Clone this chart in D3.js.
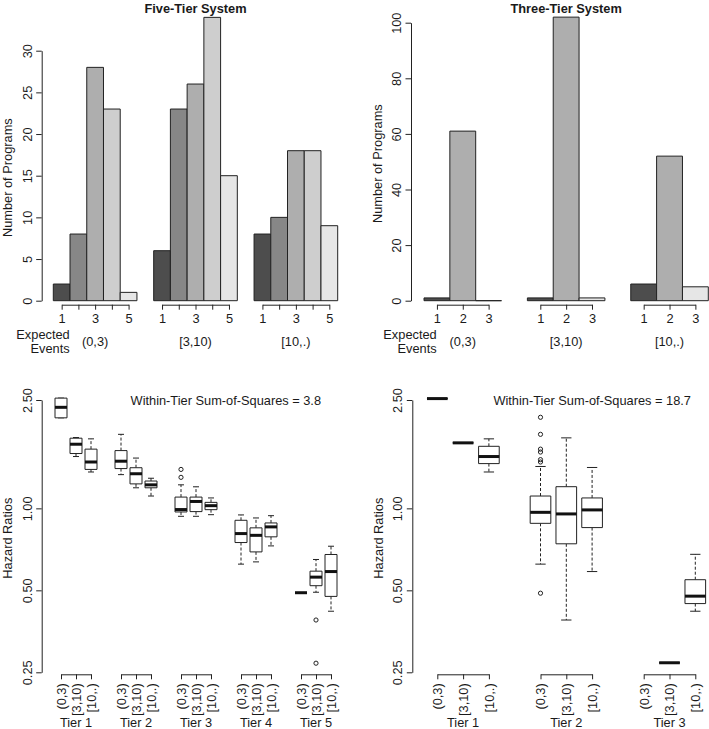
<!DOCTYPE html>
<html><head><meta charset="utf-8">
<script src="https://cdn.jsdelivr.net/npm/d3@7"></script>
<style>
body{margin:0;background:#fff}
svg{display:block;background:#fff}
text{font-family:"Liberation Sans",Arial,Helvetica,sans-serif;fill:#1a1a1a;font-size:12.8px}
</style></head><body>
<svg id="c" width="709" height="729"></svg>
<script>
// ---------------- DATA ----------------
const eventGroups = ["(0,3)", "[3,10)", "[10,.)"];

const fiveTierCategories = [1, 2, 3, 4, 5];
const fiveTierTickLabels = ["1", "", "3", "", "5"];
const fiveTierCounts = [
  [2, 8, 28, 23, 1],   // (0,3)
  [6, 23, 26, 34, 15], // [3,10)
  [8, 10, 18, 18, 9]   // [10,.)
];
const fiveTierColors = ["#4d4d4d", "#878787", "#aeaeae", "#cecece", "#e6e6e6"];
const fiveTierYTicks = [0, 5, 10, 15, 20, 25, 30];

const threeTierCategories = [1, 2, 3];
const threeTierTickLabels = ["1", "2", "3"];
const threeTierCounts = [
  [1, 61, 0],
  [1, 102, 1],
  [6, 52, 5]
];
const threeTierColors = ["#4d4d4d", "#aeaeae", "#e6e6e6"];
const threeTierYTicks = [0, 20, 40, 60, 80, 100];

const fiveTierTiers = ["Tier 1", "Tier 2", "Tier 3", "Tier 4", "Tier 5"];
const threeTierTiers = ["Tier 1", "Tier 2", "Tier 3"];

const hrTicks = [0.25, 0.5, 1, 2.5];
const hrTickLabels = ["0.25", "0.50", "1.00", "2.50"];

// [lower whisker, Q1, median, Q3, upper whisker]; order: tier, then event group
const fiveTierBoxStats = [
  [2.15, 2.15, 2.35, 2.54, 2.54],
  [1.55, 1.59, 1.72, 1.81, 1.82],
  [1.36, 1.39, 1.48, 1.65, 1.80],
  [1.33, 1.40, 1.49, 1.63, 1.87],
  [1.19, 1.23, 1.34, 1.41, 1.53],
  [1.11, 1.19, 1.22, 1.26, 1.29],
  [0.935, 0.97, 0.99, 1.10, 1.22],
  [0.935, 0.973, 1.06, 1.10, 1.20],
  [0.948, 0.989, 1.023, 1.052, 1.092],
  [0.624, 0.749, 0.808, 0.904, 0.946],
  [0.636, 0.692, 0.796, 0.848, 0.922],
  [0.728, 0.786, 0.855, 0.884, 0.940],
  [0.49, 0.49, 0.49, 0.49, 0.49],
  [0.492, 0.520, 0.559, 0.588, 0.649],
  [0.419, 0.475, 0.586, 0.677, 0.726]
];
const fiveTierOutliers = [
  [], [], [],
  [], [], [],
  [1.30, 1.39], [], [],
  [], [], [],
  [], [0.389, 0.270], []
];
const threeTierBoxStats = [
  [2.53, 2.53, 2.53, 2.53, 2.53],
  [1.74, 1.74, 1.74, 1.74, 1.74],
  [1.36, 1.46, 1.55, 1.69, 1.80],
  [0.624, 0.881, 0.967, 1.110, 1.425],
  [0.389, 0.741, 0.954, 1.201, 1.815],
  [0.586, 0.850, 0.987, 1.092, 1.413],
  null,
  [0.271, 0.271, 0.271, 0.271, 0.271],
  [0.419, 0.447, 0.476, 0.547, 0.678]
];
const threeTierOutliers = [
  [], [], [],
  [2.16, 1.87, 1.65, 1.61, 1.51, 1.48, 0.488], [], [],
  [], [], []
];
const fiveTierSumSquares = "3.8";
const threeTierSumSquares = "18.7";

// ---------------- DRAWING ----------------
const svg = d3.select("#c");
const INK = "#222";

function styleAxis(ag) {
  ag.select(".domain").attr("stroke", INK);
  ag.selectAll(".tick line").attr("stroke", INK);
  ag.selectAll("text").attr("fill", "#1a1a1a").attr("font-size", "12.8px")
    .attr("font-family", '"Liberation Sans",Arial,Helvetica,sans-serif');
}

function drawBars(o) {
  const g = svg.append("g");
  const nCat = o.counts[0].length, per = nCat + 1;
  const nUnits = o.counts.length * per - 1;
  const x = d3.scaleLinear().domain([0, nUnits]).range(o.xRange);
  const y = d3.scaleLinear().domain([0, d3.max(o.yTicks)]).range([o.y0, o.yTop]);
  o.counts.forEach((grp, gi) => {
    grp.forEach((v, i) => {
      const u = gi * per + i;
      const x0 = x(u), x1 = x(u + 1), b = y(0), t = y(v);
      g.append("path")
        .attr("d", `M${x0},${b}V${t}H${x1}V${b}Z`)
        .attr("fill", o.colors[i]).attr("stroke", INK).attr("stroke-width", 1);
    });
    const ax = d3.scaleLinear().domain([0, nCat - 1])
      .range([x(gi * per + 0.5), x(gi * per + nCat - 0.5)]);
    const axis = d3.axisBottom(ax).tickValues(d3.range(nCat))
      .tickFormat(i => o.tickLabels[i]).tickSize(5).tickSizeOuter(0);
    const ag = g.append("g").attr("transform", `translate(0,${y(0) + 4})`).call(axis);
    styleAxis(ag);
    ag.selectAll("text").attr("y", 18).attr("dy", null);
    g.append("text").attr("x", (ax.range()[0] + ax.range()[1]) / 2).attr("y", y(0) + 45.5)
      .attr("text-anchor", "middle").text(eventGroups[gi]);
  });
  // y axis
  const yg = g.append("g").attr("transform", `translate(${o.axisX},0)`)
    .call(d3.axisLeft(y).tickValues(o.yTicks).tickSize(5.5).tickSizeOuter(0));
  styleAxis(yg);
  yg.selectAll("text").attr("transform", "rotate(-90)").attr("x", 0).attr("y", -10)
    .attr("dy", null).attr("text-anchor", "middle");
  g.append("text").attr("transform", `translate(${o.axisX - 29.5},${(o.y0 + o.yTop) / 2 + 2}) rotate(-90)`)
    .attr("text-anchor", "middle").text("Number of Programs");
  g.append("text").attr("x", (o.xRange[0] + o.xRange[1]) / 2).attr("y", 13)
    .attr("text-anchor", "middle").attr("font-weight", "bold").text(o.title);
  g.append("text").attr("x", o.axisX + o.expX).attr("y", y(0) + 37.8)
    .attr("text-anchor", "end").text("Expected");
  g.append("text").attr("x", o.axisX + o.expX).attr("y", y(0) + 52)
    .attr("text-anchor", "end").text("Events");
}

function drawBoxes(o) {
  const g = svg.append("g");
  const y = d3.scaleLog().domain([0.25, 2.5]).range([672.3, 400]);
  const nG = eventGroups.length, per = nG + 1;
  const nPos = o.tiers.length * per - 1;
  const x = d3.scaleLinear().domain([1, nPos]).range(o.xRange);
  const unit = x(2) - x(1);
  const hw = 0.4 * unit, sw = 0.2 * unit;
  o.stats.forEach((s, k) => {
    const ti = Math.floor(k / nG), gi = k % nG, p = 1 + ti * per + gi;
    const cx = x(p);
    (o.outliers[k] || []).forEach(v => {
      g.append("circle").attr("cx", cx).attr("cy", y(v)).attr("r", 2.1)
        .attr("fill", "none").attr("stroke", INK).attr("stroke-width", 1);
    });
    if (!s) return;
    const [lo, q1, med, q3, hi] = s;
    [[q3, hi], [q1, lo]].forEach(([a, b]) => {
      g.append("line").attr("x1", cx).attr("x2", cx).attr("y1", y(a)).attr("y2", y(b))
        .attr("stroke", INK).attr("stroke-dasharray", "3,2");
    });
    [hi, lo].forEach(v => {
      g.append("line").attr("x1", cx - sw).attr("x2", cx + sw).attr("y1", y(v)).attr("y2", y(v))
        .attr("stroke", INK);
    });
    g.append("path").attr("d", `M${cx - hw},${y(q1)}V${y(q3)}H${cx + hw}V${y(q1)}Z`)
      .attr("fill", "#fff").attr("stroke", INK);
    g.append("line").attr("x1", cx - hw).attr("x2", cx + hw).attr("y1", y(med)).attr("y2", y(med))
      .attr("stroke", "#111").attr("stroke-width", 3);
  });
  // grouped bottom axes
  o.tiers.forEach((t, ti) => {
    const p0 = 1 + ti * per;
    const ax = d3.scaleLinear().domain([0, nG - 1]).range([x(p0), x(p0 + nG - 1)]);
    const ag = g.append("g").attr("transform", `translate(0,${y(0.25) + 2})`)
      .call(d3.axisBottom(ax).tickValues(d3.range(nG)).tickFormat(i => eventGroups[i])
        .tickSize(5).tickSizeOuter(0));
    styleAxis(ag);
    ag.selectAll("text").attr("transform", "rotate(-90)").attr("x", -9).attr("y", 0)
      .attr("dy", "0.35em").attr("text-anchor", "end");
    g.append("text").attr("x", x(p0 + 1)).attr("y", 727).attr("text-anchor", "middle").text(t);
  });
  const yg = g.append("g").attr("transform", `translate(${o.axisX},0)`)
    .call(d3.axisLeft(y).tickValues(hrTicks).tickFormat((d, i) => hrTickLabels[i])
      .tickSize(5.5).tickSizeOuter(0));
  styleAxis(yg);
  yg.selectAll("text").attr("transform", "rotate(-90)").attr("x", 0).attr("y", -10)
    .attr("dy", null).attr("text-anchor", "middle");
  g.append("text").attr("transform", `translate(${o.axisX - 29.5},${(672.3 + 400) / 2 + 2}) rotate(-90)`)
    .attr("text-anchor", "middle").text("Hazard Ratios");
  g.append("text").attr("x", o.ssX).attr("y", 404.5).attr("text-anchor", "middle")
    .text("Within-Tier Sum-of-Squares = " + o.ss);
}

drawBars({
  counts: fiveTierCounts, colors: fiveTierColors, tickLabels: fiveTierTickLabels,
  yTicks: fiveTierYTicks, xRange: [53.3, 337.7], y0: 300.7, yTop: 50.7,
  axisX: 41.7, expX: 28, title: "Five-Tier System"
});
drawBars({
  counts: threeTierCounts, colors: threeTierColors, tickLabels: threeTierTickLabels,
  yTicks: threeTierYTicks, xRange: [424, 708.3], y0: 300.7, yTop: 22.7,
  axisX: 411, expX: 25.7, title: "Three-Tier System"
});
drawBoxes({
  stats: fiveTierBoxStats, outliers: fiveTierOutliers, tiers: fiveTierTiers,
  xRange: [61, 331], axisX: 41.7, ssX: 225.8, ss: fiveTierSumSquares
});
drawBoxes({
  stats: threeTierBoxStats, outliers: threeTierOutliers, tiers: threeTierTiers,
  xRange: [437.3, 695.3], axisX: 412.3, ssX: 592.2, ss: threeTierSumSquares
});
</script>
</body></html>
